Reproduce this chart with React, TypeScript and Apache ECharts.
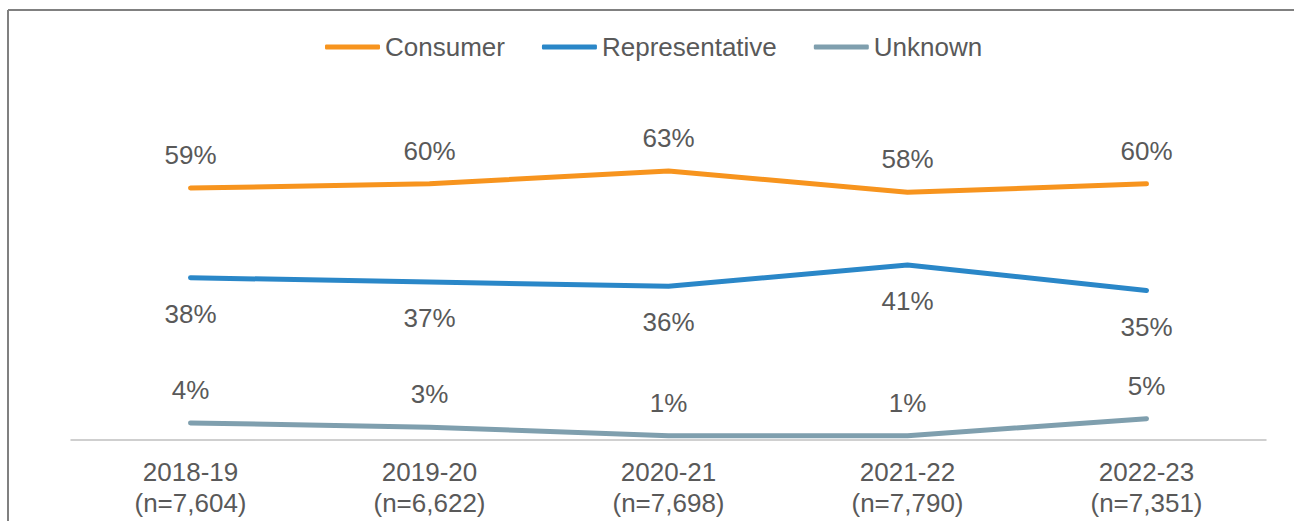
import React, { useEffect, useRef } from "react";
import * as echarts from "echarts";

const categories = ["2018-19", "2019-20", "2020-21", "2021-22", "2022-23"];
const sampleSizes = ["n=7,604", "n=6,622", "n=7,698", "n=7,790", "n=7,351"];
const consumer = [59, 60, 63, 58, 60];
const representative = [38, 37, 36, 41, 35];
const unknown = [4, 3, 1, 1, 5];

const FONT = "'Liberation Sans', Arial, sans-serif";
const TEXT = "#595959";

export default function App() {
  const ref = useRef<HTMLDivElement>(null);
  useEffect(() => {
    document.body.style.margin = "0";
    if (!ref.current) return;
    const chart = echarts.init(ref.current, null, { renderer: "svg" });
    const label = (pos: "top" | "bottom") => ({
      show: true,
      position: pos,
      distance: pos === "top" ? 20 : 23,
      formatter: "{c}%",
      color: TEXT,
      fontSize: 26,
      fontFamily: FONT,
    });
    const mk = (name: string, data: number[], color: string, pos: "top" | "bottom") => ({
      name,
      type: "line",
      data,
      symbol: "circle",
      symbolSize: 0,
      showSymbol: true,
      lineStyle: { color, width: 5, cap: "round", join: "round" },
      itemStyle: { color },
      label: label(pos),
    });
    chart.setOption({
      animation: false,
      textStyle: { fontFamily: FONT },
      legend: {
        top: 29,
        left: 320,
        icon: "roundRect",
        itemWidth: 55,
        itemHeight: 5,
        itemGap: 37,
        textStyle: { color: TEXT, fontSize: 26, fontFamily: FONT },
        data: ["Consumer", "Representative", "Unknown"],
      },
      grid: { left: 71, right: 28, top: 13, bottom: 81 },
      xAxis: {
        type: "category",
        data: categories.map((c, i) => `${c}\n(${sampleSizes[i]})`),
        boundaryGap: true,
        axisTick: { show: false },
        axisLine: { lineStyle: { color: "#C0C0C0", width: 1.5 } },
        axisLabel: {
          color: TEXT,
          fontSize: 26,
          lineHeight: 31,
          fontFamily: FONT,
          margin: 16,
          interval: 0,
        },
      },
      yAxis: {
        type: "value",
        min: 0,
        max: 100,
        show: false,
        splitLine: { show: false },
      },
      graphic: [
        { type: "line", shape: { x1: 8, y1: 10, x2: 1294, y2: 10 }, style: { stroke: "#808080", lineWidth: 2 } },
        { type: "line", shape: { x1: 8, y1: 10, x2: 8, y2: 521 }, style: { stroke: "#808080", lineWidth: 2 } },
      ],
      series: [
        mk("Consumer", consumer, "#F7941E", "top"),
        mk("Representative", representative, "#2A87C8", "bottom"),
        mk("Unknown", unknown, "#7F9FAE", "top"),
      ],
    });
    return () => chart.dispose();
  }, []);
  return <div ref={ref} style={{ width: 1294, height: 521 }} />;
}
